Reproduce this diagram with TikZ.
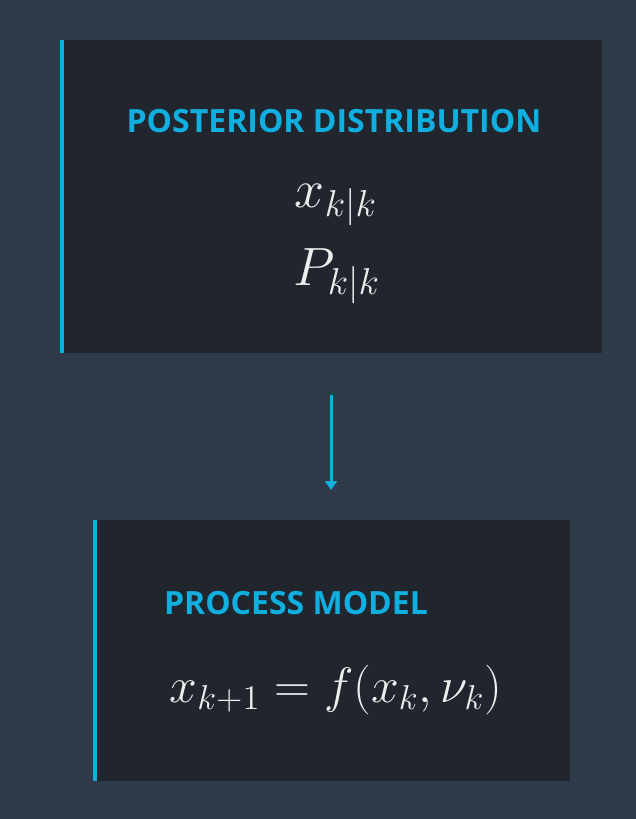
\documentclass[tikz,border=0pt]{standalone}
\usepackage{fontspec}
\setsansfont{Open Sans}
\usepackage{amsmath}
\usepackage{graphicx}
\definecolor{bgc}{HTML}{2F3A48}
\definecolor{boxc}{HTML}{21252D}
\definecolor{cyanc}{HTML}{11AEE0}
\definecolor{mathc}{HTML}{EDEDED}
\usetikzlibrary{arrows.meta}
\newcommand{\bigmath}[2]{\scalebox{#1}{$#2$}}
\tikzset{
  panel/.style={fill=boxc, draw=none},
  accent/.style={fill=cyanc, draw=none},
  title/.style={text=cyanc, font=\sffamily\bfseries\fontsize{32}{38}\selectfont, inner sep=0pt},
  mathtxt/.style={text=mathc, font=\fontsize{20}{24}\selectfont, inner sep=0pt, anchor=base},
  flow/.style={draw=cyanc, line width=3pt, -{Triangle[width=12pt,length=9pt]}},
}
\begin{document}
\begin{tikzpicture}[x=1pt,y=-1pt]
\fill[bgc] (0,0) rectangle (636,819);
\useasboundingbox (0,0) rectangle (636,819);
% box 1
\path[panel] (60,40) rectangle (602,353);
\path[accent] (60,40) rectangle (63.5,353);
\node[title] (t1) at (334,121) {POSTERIOR DISTRIBUTION};
\node[mathtxt] (m1) at (336,207) {\bigmath{2.6}{x_{k|k}}};
\node[mathtxt] (m2) at (337,285) {\bigmath{2.6}{P_{k|k}}};
% box 2
\path[panel] (93,520) rectangle (570,781);
\path[accent] (93,520) rectangle (96.5,781);
\node[title] (t2) at (296,603) {PROCESS MODEL};
\node[mathtxt] (m3) at (336,702) {\bigmath{2.4}{x_{k+1} = f(x_k, \nu_k)}};
% arrow
\coordinate (a1) at (331,395);
\coordinate (a2) at (331,490);
\draw[flow] (a1) -- (a2);
\end{tikzpicture}
\end{document}
